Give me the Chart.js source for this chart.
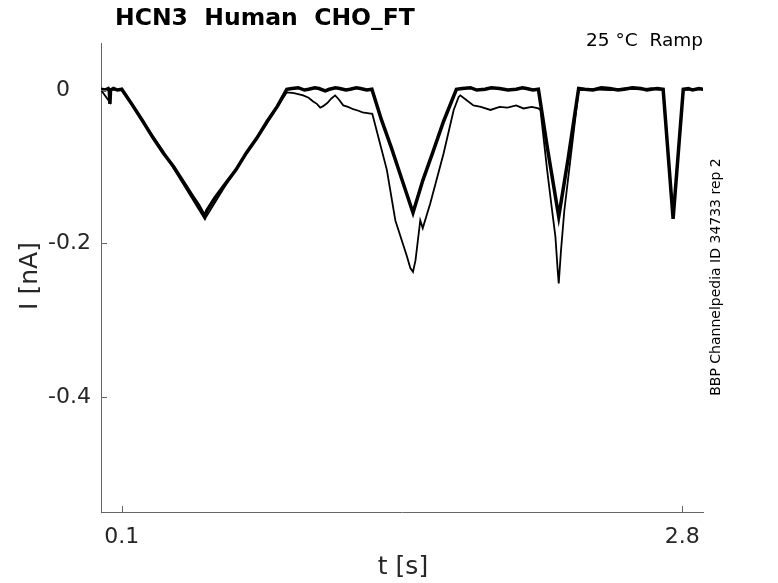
<!DOCTYPE html>
<html>
<head>
<meta charset="utf-8">
<title>HCN3 Human CHO_FT</title>
<script src="https://cdn.jsdelivr.net/npm/chart.js@4.4.1/dist/chart.umd.min.js"></script>
<style>
  html, body { margin: 0; padding: 0; background: #fff; }
  canvas { display: block; }
</style>
</head>
<body>
<canvas id="myChart" width="778" height="583"></canvas>
<script>
// sweep 1 (the one that goes back to 0 between the ramps)
var t1 = [0.000, 0.020, 0.035, 0.040, 0.043, 0.046, 0.060, 0.080, 0.100,
          0.150, 0.200, 0.250, 0.300, 0.350, 0.400, 0.440, 0.470, 0.490, 0.500, 0.510,
          0.550, 0.600, 0.650, 0.700, 0.750, 0.800, 0.850, 0.895,
          0.920, 0.950, 0.980, 1.000, 1.030, 1.050, 1.080, 1.100, 1.130, 1.150, 1.180,
          1.200, 1.230, 1.250, 1.280, 1.305,
          1.350, 1.400, 1.450, 1.503, 1.550, 1.600, 1.650, 1.712,
          1.740, 1.780, 1.810, 1.850, 1.880, 1.920, 1.960, 2.000, 2.030, 2.050, 2.080, 2.107,
          2.150, 2.205, 2.250, 2.301,
          2.330, 2.370, 2.410, 2.450, 2.490, 2.520, 2.560, 2.600, 2.630, 2.650, 2.680, 2.708,
          2.756, 2.805, 2.830, 2.850, 2.880, 2.903];
var i1 = [0.001, 0.000, 0.002, -0.001, -0.018, 0.000, 0.002, 0.000, 0.001,
          -0.019, -0.040, -0.062, -0.082, -0.100, -0.121, -0.138, -0.150, -0.160, -0.165, -0.157,
          -0.140, -0.122, -0.104, -0.082, -0.063, -0.041, -0.021, 0.001,
          0.002, 0.003, 0.000, 0.001, 0.003, 0.002, -0.001, 0.001, 0.003, 0.002, 0.000,
          0.001, 0.003, 0.002, 0.000, 0.001,
          -0.038, -0.076, -0.117, -0.160, -0.118, -0.080, -0.041, 0.001,
          0.002, 0.003, 0.000, 0.001, 0.003, 0.002, 0.000, 0.001, 0.003, 0.002, 0.000, 0.001,
          -0.075, -0.165, -0.090, 0.002,
          0.001, 0.000, 0.003, 0.002, 0.000, 0.001, 0.003, 0.002, 0.000, 0.001, 0.002, 0.001,
          -0.168, 0.001, 0.002, 0.000, 0.002, 0.001];

// sweep 2 (stays below 0 between the ramps)
var t2 = [0.000, 0.043, 0.046, 0.100, 0.300, 0.500, 0.600, 0.700, 0.800, 0.895,
          0.930, 0.974, 1.000, 1.022, 1.040, 1.056, 1.070, 1.090, 1.110, 1.128, 1.145,
          1.167, 1.190, 1.215, 1.240, 1.260, 1.283, 1.307,
          1.330, 1.377, 1.418, 1.474, 1.490, 1.503, 1.515, 1.538, 1.550, 1.586, 1.650, 1.699, 1.723,
          1.731, 1.760, 1.794, 1.830, 1.876, 1.920, 1.958, 2.000, 2.035, 2.075, 2.107,
          2.117, 2.149, 2.173, 2.189, 2.200, 2.205, 2.216, 2.232, 2.301,
          2.370, 2.450, 2.520, 2.600, 2.650, 2.708, 2.756, 2.805, 2.850, 2.903];
var i2 = [0.000, -0.016, 0.001, 0.000, -0.080, -0.168, -0.124, -0.083, -0.043, -0.003,
          -0.004, -0.007, -0.010, -0.015, -0.018, -0.023, -0.021, -0.017, -0.011, -0.007, -0.012,
          -0.020, -0.022, -0.025, -0.027, -0.029, -0.030, -0.031,
          -0.055, -0.104, -0.170, -0.217, -0.232, -0.237, -0.222, -0.170, -0.180, -0.148, -0.083, -0.026, -0.009,
          -0.007, -0.013, -0.020, -0.022, -0.026, -0.022, -0.023, -0.020, -0.024, -0.022, -0.024,
          -0.026, -0.104, -0.157, -0.191, -0.235, -0.252, -0.209, -0.157, 0.000,
          0.001, 0.000, 0.002, 0.001, 0.002, 0.000, -0.168, 0.000, 0.001, 0.001];

var xTicks = [0.1, 2.8];
var yTicks = [0, -0.2, -0.4];

function pts(t, v) {
    return t.map(function (x, k) { return {x: x, y: v[k]}; });
}

var FONT = "'DejaVu Sans', sans-serif";
var TXT = '#262626';
var AX = '#666666';

// titles, side text and inward tick marks
var decor = {
    id: 'decor',
    afterDraw: function (chart) {
        var ctx = chart.ctx;
        var xs = chart.scales.x, ys = chart.scales.y;
        var a = chart.chartArea;
        ctx.save();
        ctx.strokeStyle = AX;
        ctx.lineWidth = 1;
        ctx.beginPath();
        xTicks.forEach(function (v) {
            var px = Math.round(xs.getPixelForValue(v)) + 0.5;
            ctx.moveTo(px, a.bottom);
            ctx.lineTo(px, a.bottom - 6);
        });
        yTicks.forEach(function (v) {
            var py = Math.round(ys.getPixelForValue(v)) + 0.5;
            ctx.moveTo(a.left, py);
            ctx.lineTo(a.left + 6, py);
        });
        ctx.stroke();

        ctx.fillStyle = '#000';
        ctx.font = "bold 23.5px " + FONT;
        ctx.textAlign = 'left';
        ctx.textBaseline = 'middle';
        ctx.fillText('HCN3  Human  CHO_FT', 115, 19);

        ctx.font = "18.5px " + FONT;
        ctx.textAlign = 'right';
        ctx.fillText('25 °C  Ramp', 703, 41);

        ctx.fillStyle = TXT;
        ctx.font = "25px " + FONT;
        ctx.textAlign = 'center';
        ctx.fillText('t [s]', 403, 567);

        ctx.save();
        ctx.translate(30, 276);
        ctx.rotate(-Math.PI / 2);
        ctx.fillText('I [nA]', 0, 0);
        ctx.restore();

        ctx.save();
        ctx.fillStyle = '#000';
        ctx.font = "14px " + FONT;
        ctx.translate(716, 277);
        ctx.rotate(-Math.PI / 2);
        ctx.fillText('BBP Channelpedia ID 34733 rep 2', 0, 0);
        ctx.restore();
        ctx.restore();
    }
};

var ctx = document.getElementById('myChart');
var myChart = new Chart(ctx, {
    type: 'line',
    data: {
        datasets: [{
                label: 'rep 2 sweep 1',
                data: pts(t1, i1),
                borderColor: '#000',
                borderWidth: 3.5,
                pointRadius: 0,
                tension: 0
            }, {
                label: 'rep 2 sweep 2',
                data: pts(t2, i2),
                borderColor: '#000',
                borderWidth: 1.8,
                pointRadius: 0,
                tension: 0
            }
        ]
    },
    options: {
        responsive: false,
        animation: false,
        devicePixelRatio: 1,
        layout: {padding: {left: 0, top: 43, right: 75, bottom: 0}},
        plugins: {
            legend: {display: false},
            tooltip: {enabled: false}
        },
        scales: {
            x: {
                type: 'linear',
                min: 0,
                max: 2.9,
                afterBuildTicks: function (s) {
                    s.ticks = xTicks.map(function (v) { return {value: v}; });
                },
                afterFit: function (s) { s.height = 71; },
                grid: {drawOnChartArea: false, drawTicks: false},
                border: {display: true, color: AX, width: 1},
                ticks: {
                    font: {family: FONT, size: 22},
                    color: TXT,
                    padding: 12,
                    maxRotation: 0,
                    callback: function (v) { return v.toFixed(1); }
                }
            },
            y: {
                min: -0.55,
                max: 0.0613,
                afterBuildTicks: function (s) {
                    s.ticks = yTicks.map(function (v) { return {value: v}; });
                },
                afterFit: function (s) { s.width = 101; },
                grid: {drawOnChartArea: false, drawTicks: false},
                border: {display: true, color: AX, width: 1},
                ticks: {
                    font: {family: FONT, size: 22},
                    color: TXT,
                    padding: 10,
                    callback: function (v) { return v === 0 ? '0   ' : v.toFixed(1); }
                }
            }
        }
    },
    plugins: [decor]
});
</script>
</body>
</html>
